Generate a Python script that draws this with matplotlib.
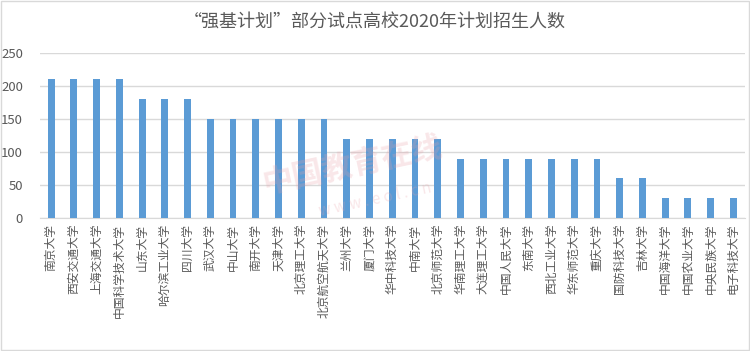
import matplotlib.pyplot as plt
import numpy as np

plt.rcParams['font.family'] = ['Noto Sans CJK SC', 'DejaVu Sans']

schools = ['南京大学', '西安交通大学', '上海交通大学', '中国科学技术大学', '山东大学',
           '哈尔滨工业大学', '四川大学', '武汉大学', '中山大学', '南开大学', '天津大学',
           '北京理工大学', '北京航空航天大学', '兰州大学', '厦门大学', '华中科技大学',
           '中南大学', '北京师范大学', '华南理工大学', '大连理工大学', '中国人民大学',
           '东南大学', '西北工业大学', '华东师范大学', '重庆大学', '国防科技大学',
           '吉林大学', '中国海洋大学', '中国农业大学', '中央民族大学', '电子科技大学']
plan = [210, 210, 210, 210, 180, 180, 180, 150, 150, 150, 150, 150, 150,
        120, 120, 120, 120, 120, 90, 90, 90, 90, 90, 90, 90, 60, 60,
        30, 30, 30, 30]
yticks = [0, 50, 100, 150, 200, 250]

fig = plt.figure(figsize=(7.5, 3.51), dpi=100)
ax = fig.add_axes([0.053, 0.379, 0.94, 0.47])

x = np.arange(len(schools))
ax.bar(x, plan, width=0.3, color='#5B9BD5', zorder=3)

ax.set_ylim(0, 250)
ax.set_xlim(-0.5, len(schools) - 0.5)
ax.set_yticks(yticks)
ax.yaxis.grid(True, color='#D9D9D9', linewidth=1)
ax.set_axisbelow(True)
for s in ['top', 'right', 'left']:
    ax.spines[s].set_visible(False)
ax.spines['bottom'].set_color('#D9D9D9')
ax.tick_params(axis='y', length=0, labelsize=9.5, colors='#595959', pad=12)
ax.tick_params(axis='x', length=0, pad=4)
ax.set_xticks(x)
ax.set_xticklabels(schools, rotation=90, fontsize=8.5, color='#595959')

fig.text(0.5, 0.935, '“强基计划”部分试点高校2020年计划招生人数', ha='center', va='center',
         fontsize=13, color='#595959')

# faint watermark
fig.text(0.47, 0.53, '中国教育在线', fontsize=22, color='#E8A0A8', alpha=0.25,
         rotation=12, ha='center', va='center', fontweight='bold')
fig.text(0.5, 0.43, 'w w w . e o l . c n', fontsize=11, color='#E8A0A8', alpha=0.25,
         rotation=12, ha='center', va='center')

# outer border
fig.patches.append(plt.Rectangle((0.001, 0.002), 0.997, 0.995, transform=fig.transFigure,
                                 fill=False, edgecolor='#D9D9D9', linewidth=1))

fig.savefig('out.png', dpi=100)
